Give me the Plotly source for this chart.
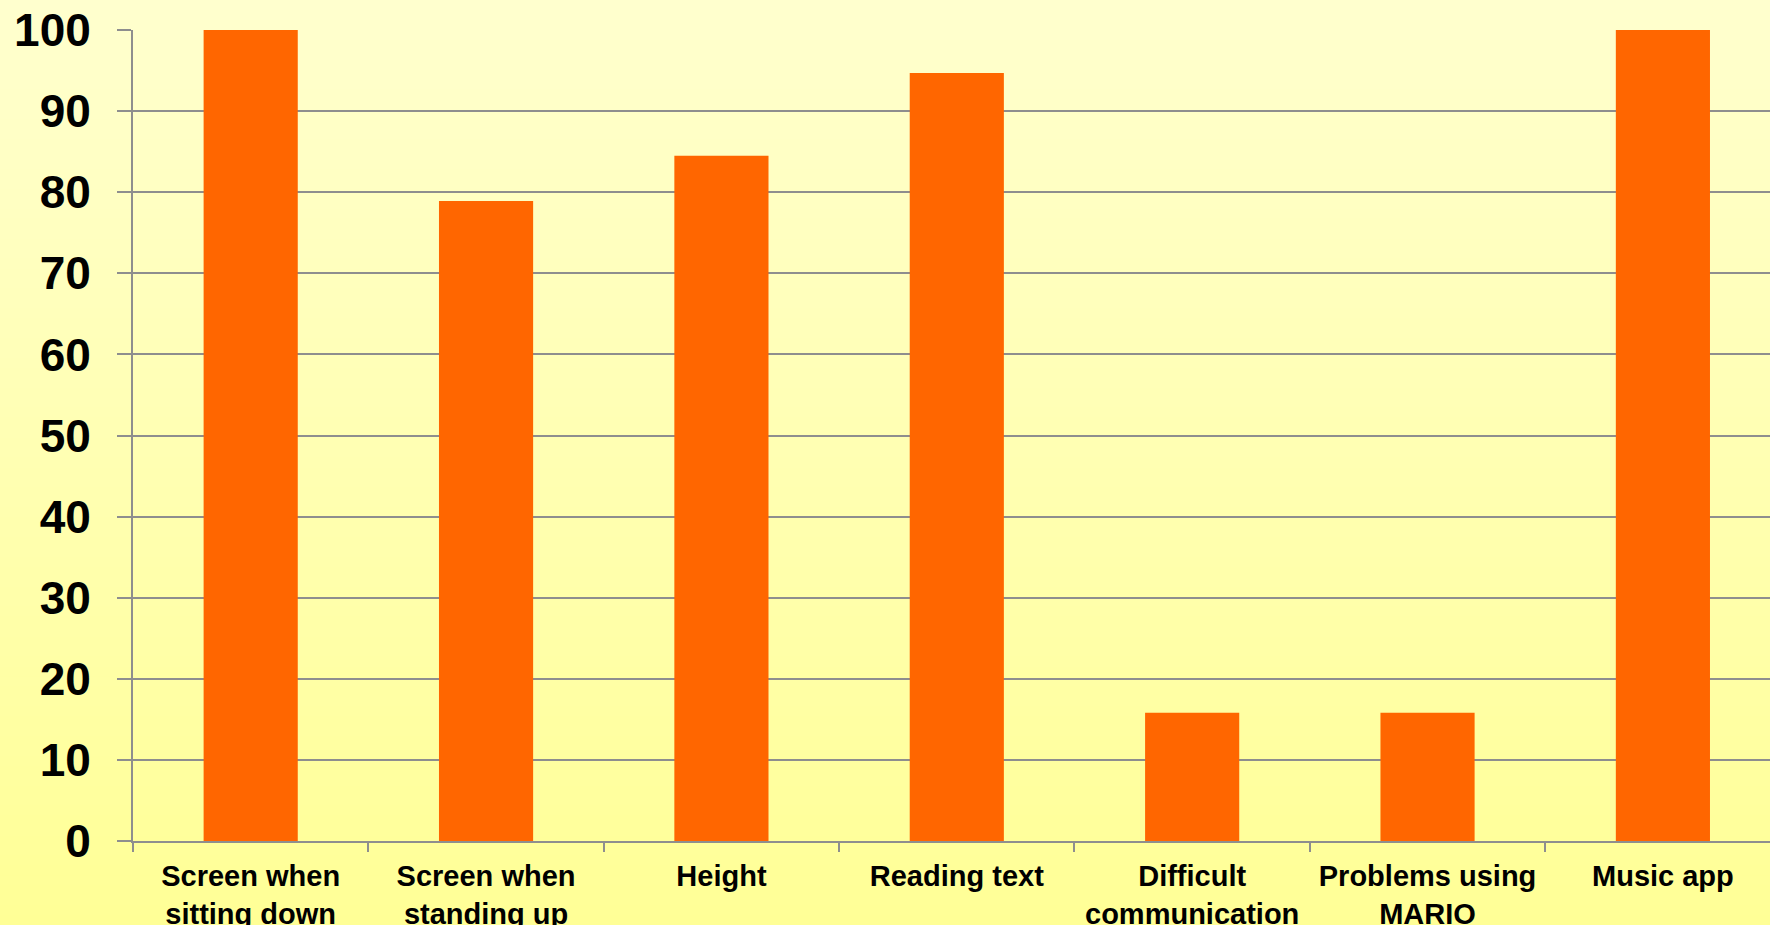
import plotly.graph_objects as go

categories = [
    "Screen when<br>sitting down",
    "Screen when<br>standing up",
    "Height",
    "Reading text",
    "Difficult<br>communication",
    "Problems using<br>MARIO",
    "Music app",
]
values = [100, 78.9, 84.5, 94.7, 15.8, 15.8, 100]
y_ticks = [0, 10, 20, 30, 40, 50, 60, 70, 80, 90, 100]

W, H = 1770, 925
ML, MR, MT, MB = 133, 0, 30, 84
plot_w = W - ML - MR
plot_h = H - MT - MB

fig = go.Figure()
fig.add_trace(go.Bar(
    x=categories, y=values,
    marker=dict(color="#FF6600", line=dict(width=0)),
    width=0.4,
))

# vertical background gradient (light yellow top -> yellow bottom)
shapes = []
n = 93
top = (255, 255, 206)
bot = (255, 255, 150)
for i in range(n):
    t = (i + 0.5) / n
    c = tuple(round(top[k] + (bot[k] - top[k]) * t) for k in range(3))
    py0 = i * H / n
    py1 = (i + 1) * H / n + 1
    shapes.append(dict(
        type="rect", xref="paper", yref="paper", layer="below",
        x0=-ML / plot_w, x1=1 + MR / plot_w,
        y0=(H - MB - py1) / plot_h, y1=(H - MB - py0) / plot_h,
        fillcolor="rgb(%d,%d,%d)" % c, line=dict(width=0),
    ))

grid = "#8E8E8E"
fig.update_layout(
    width=W, height=H,
    margin=dict(l=ML, r=MR, t=MT, b=MB, pad=0),
    paper_bgcolor="rgb(255,255,153)",
    plot_bgcolor="rgba(0,0,0,0)",
    shapes=shapes,
    showlegend=False,
    font=dict(family="Liberation Sans, Arial, sans-serif", color="black"),
    xaxis=dict(
        type="category",
        range=[-0.5, 6.455],
        showgrid=False,
        showline=True, linecolor=grid, linewidth=2,
        ticks="outside", tickson="boundaries", ticklen=9,
        tickcolor=grid, tickwidth=2,
        tickfont=dict(size=29, family="Liberation Sans, Arial, sans-serif", weight="bold"),
        ticklabelstandoff=8,
        automargin=False,
    ),
    yaxis=dict(
        range=[0, 100],
        tickvals=y_ticks,
        showgrid=True, gridcolor=grid, gridwidth=2,
        zeroline=False,
        showline=True, linecolor=grid, linewidth=2,
        ticks="outside", ticklen=14, tickcolor=grid, tickwidth=2,
        tickfont=dict(size=46, family="Liberation Sans, Arial, sans-serif", weight="bold"),
        ticklabelstandoff=17,
        automargin=False,
    ),
)

fig.write_html("out.html", config={"displayModeBar": False})
